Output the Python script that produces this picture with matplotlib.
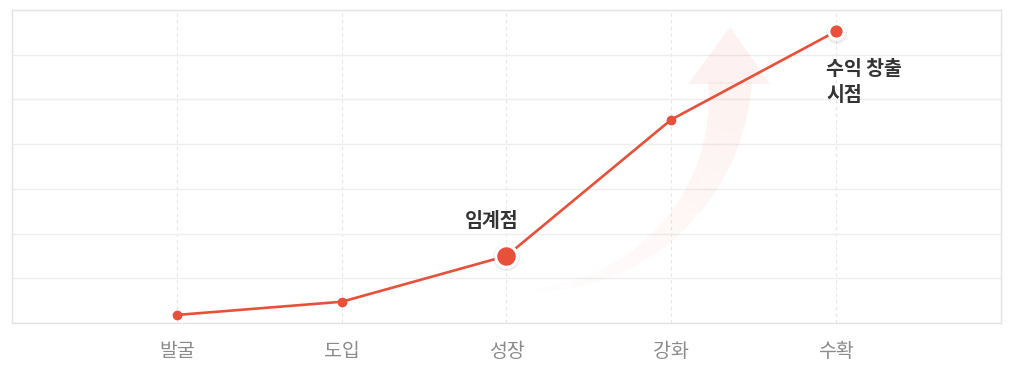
import numpy as np
import matplotlib.pyplot as plt
from matplotlib.patches import Polygon

plt.rcParams['font.family'] = ['Noto Sans CJK KR', 'DejaVu Sans']

# 단계별 값 (눈금 0~140 기준으로 읽은 값)
stages = ['발굴', '도입', '성장', '강화', '수확']
values = [3.6, 9.5, 30, 91, 130.5]
highlight = ['성장', '수확']
notes = {'성장': '임계점', '수확': '수익 창출\n시점'}

red = '#e8503a'
fig = plt.figure(figsize=(10.17, 3.83), dpi=100)
ax = fig.add_axes([12 / 1017, 60 / 383, 989 / 1017, 313 / 383])

x = np.arange(len(stages))

# 배경의 흐릿한 곡선 화살표 (장식, 픽셀 좌표)
W, H = 1017, 383
def px(pts):
    return [(a / W, 1 - b / H) for a, b in pts]

cx, cy, rx, ry = 525, 82, 205, 208
n = 40
th = np.linspace(-np.pi / 2, 0, n + 1)
for i in range(n):
    t0, t1 = th[i], th[i + 1]
    w0 = 2 + 20 * (i / n) ** 1.3
    w1 = 2 + 20 * ((i + 1) / n) ** 1.3
    pts = []
    for t, w in ((t0, w0), (t1, w1)):
        ex, ey = cx + rx * np.cos(t), cy - ry * np.sin(t)
        nx, ny = np.cos(t), -np.sin(t) * rx / ry
        l = np.hypot(nx, ny)
        pts.append((ex + nx / l * w, ey + ny / l * w))
        pts.append((ex - nx / l * w, ey - ny / l * w))
    quad = [pts[0], pts[2], pts[3], pts[1]]
    fig.patches.append(Polygon(px(quad), closed=True, transform=fig.transFigure,
                               facecolor=red, edgecolor='none',
                               alpha=0.07 * (i / n) ** 0.8, zorder=0))
head = [(688, 84), (770, 84), (730, 27)]
fig.patches.append(Polygon(px(head), closed=True, transform=fig.transFigure,
                           facecolor=red, edgecolor='none', alpha=0.07, zorder=0))

ax.set_facecolor('none')
ax.set_xlim(-1, len(stages))
ax.set_ylim(0, 140)
ax.set_yticks(np.arange(0, 141, 20))
ax.set_yticklabels([])
ax.set_xticks(x)
ax.set_xticklabels(stages, fontsize=14, color='#8a8a8a')
ax.tick_params(axis='both', length=0)
ax.tick_params(axis='x', pad=13)
ax.grid(axis='y', color='#eeeeee', linewidth=1)
ax.grid(axis='x', color='#e6e6e6', linewidth=0.8, linestyle=(0, (3, 3)))
for s in ax.spines.values():
    s.set_color('#e3e3e3')
    s.set_linewidth(1)

ax.plot(x, values, color=red, linewidth=1.9, zorder=3)
small = [i for i, s in enumerate(stages) if s not in highlight]
ax.plot(x[small], [values[i] for i in small], 'o', color=red, markersize=6, zorder=4)

for s in highlight:
    i = stages.index(s)
    ms = 15.5 if s == '성장' else 11
    ax.plot(x[i], values[i] - 0.6, 'o', color='#000000', alpha=0.07,
            markersize=ms + 4, markeredgewidth=0, zorder=4)
    ax.plot(x[i], values[i], 'o', color=red, markersize=ms,
            markeredgecolor='white', markeredgewidth=2.2, zorder=5)

i = stages.index('성장')
ax.annotate(notes['성장'], (x[i], values[i]), xytext=(-11, 24.5), textcoords='offset points',
            ha='center', va='center', fontsize=14, fontweight='bold', color='#333333')
i = stages.index('수확')
ax.annotate(notes['수확'], (x[i], values[i]), xytext=(-7, -20.5), textcoords='offset points',
            ha='left', va='top', fontsize=14, fontweight='bold', color='#333333',
            linespacing=1.5)

fig.savefig('out.png', dpi=100)
